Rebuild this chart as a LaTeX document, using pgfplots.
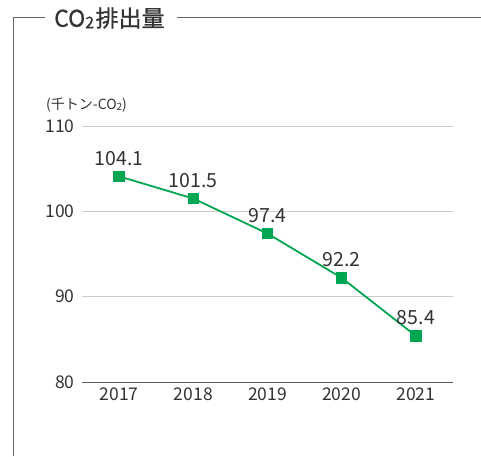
\documentclass[border=0pt]{standalone}
\usepackage{fontspec}
\setmainfont{Noto Sans CJK JP}
\newfontfamily\titlefont{Noto Sans CJK JP}[FakeBold=0.8]
\usepackage{pgfplots}
\pgfplotsset{compat=1.18}
\definecolor{lgreen}{HTML}{00A651}
\definecolor{framegray}{HTML}{666666}
\definecolor{txt}{HTML}{333333}
\begin{document}
\begin{tikzpicture}[x=1pt,y=1pt]
\useasboundingbox (0,0) rectangle (481,-456);
\draw[framegray,line width=0.9pt] (13,-456) -- (13,-17) -- (45,-17);
\draw[framegray,line width=0.9pt] (177,-17) -- (481,-17);
\node[anchor=west,text=txt,font=\titlefont\fontsize{23}{25}\selectfont,inner sep=0] at (54,-18) {CO{\fontsize{16}{16}\selectfont\raisebox{-1.5pt}{2}}\hspace{1.5pt}排出量};
\node[anchor=west,text=txt,font=\fontsize{14}{16}\selectfont,inner sep=0] at (46,-105) {(千トン-CO{\fontsize{10}{10}\selectfont\raisebox{-1pt}{2}})};
\begin{axis}[
  at={(82pt,-382pt)}, anchor=south west,
  scale only axis, width=371pt, height=256pt,
  xmin=-0.5, xmax=4.5, ymin=80, ymax=110,
  axis line style={draw=none},
  xtick=data, xticklabels={2017,2018,2019,2020,2021},
  ytick={80,90,100,110},
  major tick length=0pt,
  ymajorgrids, grid style={line width=0.8pt, color=black!20},
  tick label style={text=txt, font=\fontsize{17.5}{19}\selectfont},
  /pgf/number format/assume math mode=true,
  yticklabel style={xshift=-4pt},
  xticklabel style={yshift=-2pt},
  clip=false,
  nodes near coords,
  every node near coord/.append style={text=txt, font=\fontsize{19.5}{21}\selectfont, anchor=base, yshift=11pt},
  point meta=explicit symbolic,
]
\addplot[lgreen, line width=1.8pt, mark=square*, mark size=5.2pt, mark options={fill=lgreen,draw=lgreen,line width=0pt}]
 table[meta=lab] {
 x y lab
 0 104.1 104.1
 1 101.5 101.5
 2 97.4 97.4
 3 92.2 92.2
 4 85.4 85.4
 };
\draw[black!65, line width=1pt] (axis cs:-0.5,80) -- (axis cs:4.5,80);
\end{axis}
\end{tikzpicture}
\end{document}
